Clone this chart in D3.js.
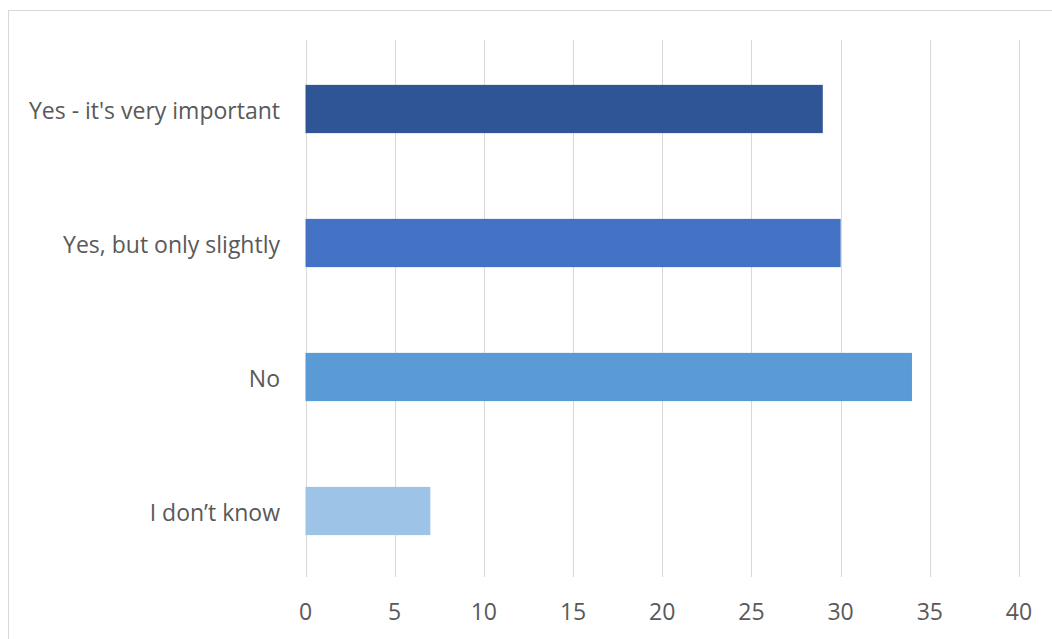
<!DOCTYPE html>
<html><head><meta charset="utf-8">
<script src="https://cdn.jsdelivr.net/npm/d3@7"></script>
<style>
html,body{margin:0;padding:0;background:#fff;}
svg{display:block;}
text{font-family:"Open Sans","Noto Sans",sans-serif;}
</style></head>
<body>
<svg id="chart" width="1052" height="639"></svg>
<script>
const categories = ["Yes - it's very important", "Yes, but only slightly", "No", "I don\u2019t know"];
const values = [29, 30, 34, 7];
const colors = ["#2F5597", "#4472C4", "#5B9BD5", "#9DC3E6"];
const tickValues = [0, 5, 10, 15, 20, 25, 30, 35, 40];

(function () {
const svg = d3.select("#chart");

// chart frame
svg.append("rect").attr("x", 8.5).attr("y", 10.5).attr("width", 1060).attr("height", 660)
  .attr("fill", "#fff").attr("stroke", "#d9d9d9").attr("stroke-width", 1);

const mLeft = 305.5, mRight = 1019, mTop = 42, mBottom = 578;
const x = d3.scaleLinear().domain([0, 40]).range([mLeft, mRight]);
const y = d3.scaleBand().domain(categories).range([mTop, mBottom]).paddingInner(0.64).paddingOuter(0.32);

// gridlines
svg.append("g").selectAll("line").data(tickValues).join("line")
  .attr("x1", d => Math.round(x(d)) + 0.5).attr("x2", d => Math.round(x(d)) + 0.5)
  .attr("y1", 40).attr("y2", 577)
  .attr("stroke", "#d9d9d9").attr("stroke-width", 1);

// bars
svg.append("g").selectAll("rect").data(values).join("rect")
  .attr("x", x(0))
  .attr("y", (d, i) => y(categories[i]))
  .attr("width", d => x(d) - x(0))
  .attr("height", y.bandwidth())
  .attr("fill", (d, i) => colors[i]);

// category labels
svg.append("g").selectAll("text").data(categories).join("text")
  .attr("x", 280).attr("y", d => y(d) + y.bandwidth() / 2 + 1)
  .attr("text-anchor", "end").attr("dominant-baseline", "central")
  .attr("fill", "#595959").attr("font-size", 23)
  .text(d => d);

// x tick labels
svg.append("g").selectAll("text").data(tickValues).join("text")
  .attr("x", d => x(d)).attr("y", 611)
  .attr("text-anchor", "middle").attr("dominant-baseline", "central")
  .attr("fill", "#595959").attr("font-size", 23)
  .text(d => d);
})();
</script>
</body></html>
